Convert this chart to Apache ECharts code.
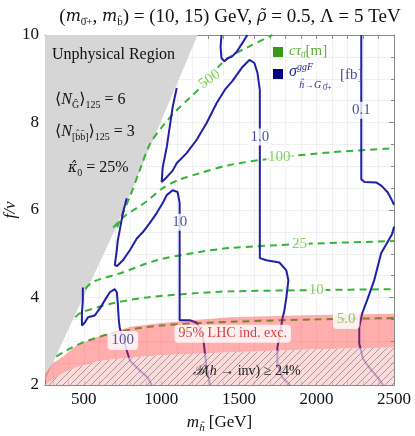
<!DOCTYPE html>
<html>
<head>
<meta charset="utf-8">
<title>ctau and sigma contours</title>
<script src="https://cdn.jsdelivr.net/npm/echarts@6/dist/echarts.min.js"></script>
<style>
  html, body { margin: 0; background: #fff; }
  #chart { width: 415px; height: 436px; }
</style>
</head>
<body>
<div id="chart"></div>
<script>
// axis ranges and ticks
var xMin = 250, xMax = 2500, yMin = 2, yMax = 10;
var xTickValues = [300, 400, 500, 600, 700, 800, 900, 1000, 1100, 1200, 1300, 1400, 1500, 1600, 1700, 1800, 1900, 2000, 2100, 2200, 2300, 2400];
var xLabelValues = [500, 1000, 1500, 2000, 2500];

// regions (m_h, f/v)
var unphysical = [[250, 2.1], [346, 2.86], [700, 5.54], [1234, 10], [250, 10]];
var lhcTop = [[250, 2.25], [300, 2.5], [366, 2.65], [450, 2.9], [585, 3.1], [800, 3.33], [1000, 3.42], [1440, 3.55], [2000, 3.6], [2500, 3.63]];
var invTop = [[250, 2.0], [300, 2.12], [366, 2.27], [450, 2.4], [600, 2.55], [800, 2.63], [1000, 2.68], [1440, 2.75], [2000, 2.82], [2500, 2.86]];

// c tau contours [m]
var ct500 = [[715, 5.6], [732, 5.75], [797, 6.3], [861, 6.91], [925, 7.5], [1009, 7.92], [1099, 8.28], [1182, 8.56], [1247, 8.78], [1311, 8.98], [1375, 9.3], [1459, 9.54], [1568, 9.74], [1716, 10]];
var ct100 = [[690, 5.6], [760, 5.85], [830, 6.02], [906, 6.2], [1009, 6.5], [1120, 6.7], [1247, 6.84], [1440, 7.03], [1761, 7.2], [2100, 7.32], [2500, 7.41]];
var ct25 = [[510, 4.2], [560, 4.36], [732, 4.55], [970, 4.85], [1227, 5.03], [1440, 5.13], [1890, 5.22], [2500, 5.29]];
var ct10 = [[445, 3.55], [480, 3.65], [687, 3.87], [906, 4.0], [1227, 4.1], [1440, 4.14], [2000, 4.17], [2500, 4.19]];
var ct5 = [[323, 2.65], [420, 2.85], [500, 2.98], [700, 3.2], [1000, 3.36], [1500, 3.45], [2000, 3.5], [2500, 3.53]];

// sigma contours [fb]
var sg01a = [[2289, 10], [2289, 6.7], [2310, 6.64], [2385, 6.63], [2420, 6.55], [2460, 6.4], [2490, 6.2], [2500, 6.12]];
var sg01b = [[2500, 5.62], [2488, 5.45], [2417, 5.01], [2372, 4.39], [2327, 3.94], [2295, 3.64], [2276, 3.32], [2276, 2.95], [2300, 2.6], [2340, 2.4], [2400, 2.15], [2430, 2.0]];
var sg1a = [[1099, 8.79], [1073, 8.35], [1054, 7.9], [1035, 7.44], [1009, 6.98], [1002, 6.64], [1035, 6.75], [1073, 6.9], [1099, 7.07], [1163, 7.3], [1227, 7.6], [1292, 7.99], [1356, 8.44], [1410, 8.75], [1459, 8.95], [1523, 9.27], [1568, 9.43], [1600, 9.36], [1620, 9.13], [1635, 8.74], [1635, 4.9], [1678, 4.85], [1761, 4.8], [1806, 4.62], [1819, 4.39], [1806, 4.0], [1793, 3.7], [1781, 3.52], [1761, 3.09], [1748, 2.86], [1748, 2.49], [1781, 2.17], [1813, 2.06], [1830, 2.0]];
var sg1b = [[1388, 10], [1382, 9.73], [1388, 9.47], [1407, 9.4], [1427, 9.47], [1453, 9.5], [1485, 9.61], [1523, 9.82], [1555, 10]];
var sg10 = [[777, 6.27], [752, 5.93], [732, 5.54], [719, 5.3], [713, 5.08], [700, 4.74], [715, 4.72], [752, 4.85], [797, 5.08], [842, 5.35], [880, 5.49], [925, 5.7], [970, 5.93], [1009, 6.16], [1035, 6.34], [1073, 6.45], [1105, 6.41], [1118, 6.16], [1118, 3.48], [1182, 3.48], [1227, 3.43], [1266, 3.18], [1279, 2.79], [1292, 2.4], [1311, 2.06], [1315, 2.0]];
var sg100 = [[494, 4.23], [494, 3.94], [488, 3.64], [488, 3.36], [507, 3.43], [527, 3.55], [571, 3.59], [604, 3.75], [636, 3.94], [668, 4.12], [700, 4.19], [713, 4.12], [719, 3.87], [726, 3.48], [732, 3.3], [760, 3.0], [777, 2.79], [797, 2.56], [861, 2.33], [912, 2.17], [938, 2.0]];

// contour labels: text, m, f/v, rotation
var ctauLabels = [['500', 1311, 8.99, 36], ['100', 1761, 7.2, 0], ['25', 1890, 5.22, 0], ['10', 1999, 4.17, 0]];
var ctauBoxLabels = [['5.0', 2192, 3.5, 0]];
var sigmaLabels = [['0.1', 2289, 8.28, 0], ['1.0', 1635, 7.67, 0], ['10', 1118, 5.72, 0]];
var sigmaBoxLabels = [['100', 752, 3.02, 0]];

var serif = "'Liberation Serif', 'DejaVu Serif', serif";
var green = '#33b533';
var blue = '#1f1fa8';

// diagonal hatch pattern
var hatch = document.createElement('canvas');
hatch.width = 7; hatch.height = 7;
var hc = hatch.getContext('2d');
hc.strokeStyle = 'rgba(110,110,110,0.75)';
hc.lineWidth = 0.8;
hc.beginPath();
hc.moveTo(-1, 8); hc.lineTo(8, -1);
hc.moveTo(-1, 1); hc.lineTo(1, -1);
hc.moveTo(6, 8); hc.lineTo(8, 6);
hc.stroke();

function polygonSeries(points, style, z) {
  return {
    type: 'custom',
    coordinateSystem: 'cartesian2d',
    clip: true,
    silent: true,
    z: z,
    data: [points[0]],
    renderItem: function (params, api) {
      return {
        type: 'polygon',
        shape: { points: points.map(function (p) { return api.coord(p); }) },
        style: style
      };
    }
  };
}

function lineSeries(data, color, dashed, z) {
  return {
    type: 'line',
    data: data,
    showSymbol: false,
    smooth: dashed ? 0.3 : false,
    silent: true,
    z: z,
    lineStyle: { color: color, width: 2, type: dashed ? [7, 5] : 'solid' }
  };
}

function labelSeries(list, color, boxed, z) {
  return {
    type: 'scatter',
    symbolSize: 0,
    silent: true,
    z: z,
    data: list.map(function (a) {
      return {
        value: [a[1], a[2]],
        label: {
          show: true,
          position: 'inside',
          formatter: a[0],
          rotate: a[3],
          color: color,
          fontFamily: serif,
          fontSize: 15,
          backgroundColor: '#fff',
          borderRadius: boxed ? 4 : 0,
          padding: boxed ? [2, 4] : [1, 2]
        }
      };
    })
  };
}

var sub = { fontFamily: serif, fontSize: 10, lineHeight: 11, verticalAlign: 'bottom' };
var ital = { fontFamily: serif, fontStyle: 'italic', fontSize: 16, lineHeight: 20 };
var italDj = { fontFamily: "'DejaVu Serif', serif", fontStyle: 'italic', fontSize: 14, lineHeight: 20 };
var gridLine = { show: true, lineStyle: { color: '#f0f0f0', width: 1 } };

var pinkBand = lhcTop.concat(invTop.slice().reverse());
var invRegion = invTop.concat([[2500, 2], [250, 2]]);

var chart = echarts.init(document.getElementById('chart'));
chart.setOption({
  animation: false,
  grid: { left: 45, right: 21, top: 35, bottom: 51, containLabel: false, outerBoundsMode: 'none' },
  xAxis: [{
    type: 'value', min: xMin, max: xMax, position: 'bottom',
    name: '{i|m}{s|ĥ} [GeV]', nameLocation: 'middle', nameGap: 27, nameMoveOverlap: false,
    nameTextStyle: {
      fontFamily: serif, fontSize: 17, color: '#111',
      rich: {
        i: { fontFamily: serif, fontStyle: 'italic', fontSize: 17, lineHeight: 22 },
        s: { fontFamily: serif, fontStyle: 'italic', fontSize: 11, lineHeight: 14, verticalAlign: 'bottom' }
      }
    },
    axisLine: { lineStyle: { color: '#8a8a8a', width: 1 } },
    axisTick: { inside: true, length: 4, customValues: xTickValues.concat([2500]), lineStyle: { color: '#8a8a8a' } },
    axisLabel: { customValues: xLabelValues, formatter: function (v) { return String(v); }, fontFamily: serif, fontSize: 17, color: '#111', margin: 6 },
    splitLine: { show: false }
  }, {
    type: 'value', min: xMin, max: xMax, position: 'top',
    axisLine: { lineStyle: { color: '#8a8a8a', width: 1 } },
    axisTick: { inside: true, length: 4, customValues: xTickValues, lineStyle: { color: '#8a8a8a' } },
    axisLabel: { show: false },
    splitLine: gridLine
  }],
  yAxis: [{
    type: 'value', min: yMin, max: yMax, interval: 2, position: 'left',
    name: 'f/v', nameLocation: 'middle', nameGap: 26, nameRotate: 90, nameMoveOverlap: false,
    nameTextStyle: { fontFamily: serif, fontStyle: 'italic', fontSize: 17, color: '#111' },
    axisLine: { lineStyle: { color: '#8a8a8a', width: 1 } },
    axisTick: { inside: true, length: 5, lineStyle: { color: '#8a8a8a' } },
    minorTick: { show: true, splitNumber: 4, length: 3, lineStyle: { color: '#8a8a8a' } },
    axisLabel: { fontFamily: serif, fontSize: 17, color: '#111', margin: 6 },
    splitLine: gridLine,
    minorSplitLine: gridLine
  }, {
    type: 'value', min: yMin, max: yMax, interval: 2, position: 'right',
    axisLine: { lineStyle: { color: '#8a8a8a', width: 1 } },
    axisTick: { inside: true, length: 5, lineStyle: { color: '#8a8a8a' } },
    minorTick: { show: true, splitNumber: 4, length: 3, lineStyle: { color: '#8a8a8a' } },
    axisLabel: { show: false },
    splitLine: { show: false }
  }],
  title: {
    text: '({i|m}{s|0̂+}, {i|m}{s|b̂}) = (10, 15) GeV, {i|ρ̃} = 0.5, Λ = 5 TeV',
    left: 225, top: 1, textAlign: 'center',
    textStyle: {
      fontFamily: serif, fontSize: 19, fontWeight: 'normal', color: '#111',
      rich: {
        i: { fontFamily: "'DejaVu Serif', serif", fontStyle: 'italic', fontSize: 16, lineHeight: 22 },
        s: { fontFamily: serif, fontSize: 11, lineHeight: 13, verticalAlign: 'bottom' }
      }
    }
  },
  graphic: [
    { type: 'text', left: 52, top: 47, z: 100, style: { text: 'Unphysical Region', font: '16px ' + serif, fill: '#111' } },
    { type: 'text', left: 55, top: 92, z: 100, style: {
      text: '⟨{i|N}{s|Ĝ}⟩{s|125} = 6', font: '16px ' + serif, fill: '#111', rich: { i: ital, s: sub } } },
    { type: 'text', left: 55, top: 124, z: 100, style: {
      text: '⟨{i|N}{s|[b̂b̄]}⟩{s|125} = 3', font: '16px ' + serif, fill: '#111', rich: { i: ital, s: sub } } },
    { type: 'text', left: 68, top: 160, z: 100, style: {
      text: '{i|κ̂}{s|0} = 25%', font: '16px ' + serif, fill: '#111', rich: { i: italDj, s: sub } } },
    { type: 'rect', left: 273, top: 47, z: 100, shape: { width: 10, height: 10 }, style: { fill: '#3a9a17' } },
    { type: 'text', left: 289, top: 44, z: 100, style: {
      text: '{i|cτ}{s|0̂}[m]', font: '15px ' + serif, fill: '#5cae36',
      rich: { i: { fontStyle: 'italic', fontFamily: serif, fontSize: 15, lineHeight: 18 }, s: { fontFamily: serif, fontSize: 9, lineHeight: 10, verticalAlign: 'bottom' } } } },
    { type: 'rect', left: 273, top: 69, z: 100, shape: { width: 10, height: 10 }, style: { fill: '#000080' } },
    { type: 'text', left: 289, top: 62, z: 100, style: {
      text: '{i|σ}{p|ggF}', font: '15px ' + serif, fill: '#2a2a90',
      rich: { i: { fontStyle: 'italic', fontFamily: serif, fontSize: 16, lineHeight: 20 }, p: { fontStyle: 'italic', fontFamily: serif, fontSize: 10, lineHeight: 10, verticalAlign: 'top' } } } },
    { type: 'text', left: 299, top: 80, z: 100, style: { text: 'ĥ→G', font: 'italic 10px ' + serif, fill: '#2a2a90' } },
    { type: 'text', left: 323, top: 84, z: 100, style: { text: '0̂+', font: '8px ' + serif, fill: '#2a2a90' } },
    { type: 'text', left: 340, top: 68, z: 100, style: { text: '[fb]', font: '15px ' + serif, fill: '#4a4aa0' } },
    { type: 'text', left: 193, top: 364, z: 100, style: {
      text: '{i|ℬ}({i|h} → inv) ≥ 24%', font: '14px ' + serif, fill: '#222',
      rich: { i: { fontFamily: serif, fontStyle: 'italic', fontSize: 14 } } } }
  ],
  series: [
    polygonSeries(unphysical, { fill: '#d6d6d6' }, 1),
    lineSeries(ct500, green, true, 2),
    lineSeries(ct100, green, true, 2),
    lineSeries(ct25, green, true, 2),
    lineSeries(ct10, green, true, 2),
    lineSeries(ct5, green, true, 2),
    lineSeries(sg01a, blue, false, 3),
    lineSeries(sg01b, blue, false, 3),
    lineSeries(sg1a, blue, false, 3),
    lineSeries(sg1b, blue, false, 3),
    lineSeries(sg10, blue, false, 3),
    lineSeries(sg100, blue, false, 3),
    polygonSeries(pinkBand, { fill: 'rgba(255,40,40,0.38)' }, 4),
    polygonSeries(invRegion, { fill: 'rgba(252,205,205,0.72)' }, 5),
    polygonSeries(invRegion, { fill: { image: hatch, repeat: 'repeat' } }, 6),
    labelSeries(ctauLabels, '#6cbf3c', false, 8),
    labelSeries(ctauBoxLabels, '#6cbf3c', true, 9),
    labelSeries(sigmaLabels, '#1f1f8c', false, 8),
    labelSeries(sigmaBoxLabels, '#2a2a9a', true, 9),
    {
      type: 'scatter', symbolSize: 0, silent: true, z: 9,
      data: [{ value: [1460, 3.17], label: { show: true, position: 'inside', formatter: '95% LHC ind. exc.', color: '#c81414', fontFamily: serif, fontSize: 14, backgroundColor: '#fff', borderRadius: 4, padding: [2, 4] } }]
    }
  ]
});
</script>
</body>
</html>
